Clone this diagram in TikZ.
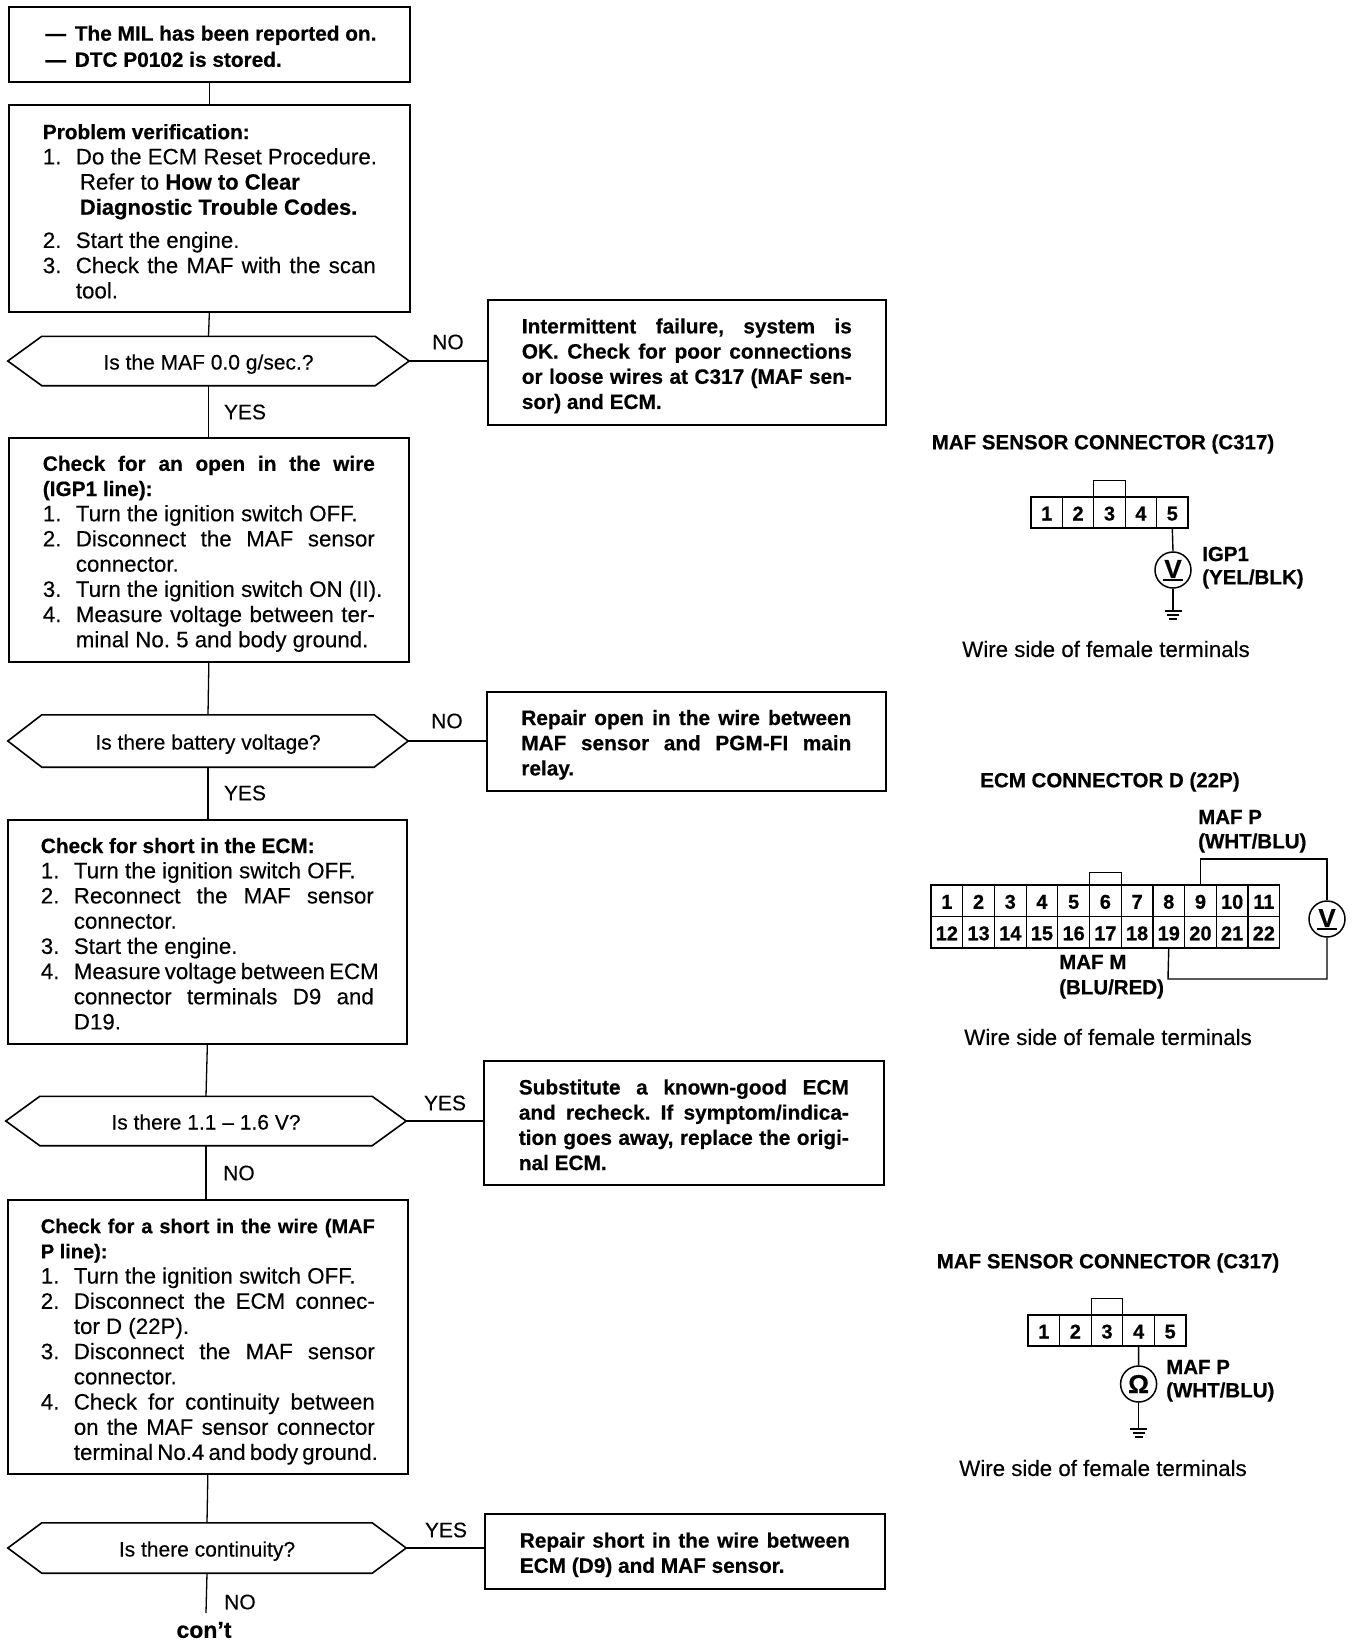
\documentclass[tikz,border=0pt]{standalone}
\usepackage{fontspec}
\setmainfont[FakeBold=0.3,BoldFeatures={FakeBold=0.5}]{Liberation Sans}
\usetikzlibrary{calc}
\def\TW{333pt}
\newcommand{\BF}{\fontsize{20.8}{25.2}\selectfont\bfseries}
\newcommand{\BL}{\fontsize{22}{25.2}\selectfont\bfseries}
\newcommand{\BS}{\fontsize{20}{25.2}\selectfont\bfseries}
\newcommand{\RG}{\fontsize{22.3}{25.2}\selectfont\mdseries}
\newcommand{\JL}[1]{\makebox[\TW][s]{#1}}
\newcommand{\NL}[2]{\mbox{\makebox[33pt][l]{#1}#2}}
\newcommand{\NJ}[2]{\mbox{\makebox[33pt][l]{#1}\makebox[\dimexpr\TW-33pt][s]{#2}}}
\newcommand{\IL}[1]{\mbox{\hspace*{33pt}#1}}
\newcommand{\CN}[1]{\raisebox{-8pt}[0pt][0pt]{#1}}
\tikzset{
  main/.style={font=\fontsize{22}{25.2}\selectfont},
  flowbox/.style={draw,line width=1.7pt,anchor=north west,inner sep=0pt,align=left,main},
  link/.style={line width=1.3pt},
  hexline/.style={line width=1.6pt,line join=miter},
  hextext/.style={inner sep=0pt,font=\fontsize{21}{24}\selectfont},
  lab/.style={inner sep=0pt,font=\fontsize{21}{24}\selectfont},
  title/.style={inner sep=0pt,font=\fontsize{20.5}{24}\selectfont\bfseries},
  wire/.style={inner sep=0pt,font=\fontsize{22.3}{24}\selectfont},
  tag/.style={inner sep=0pt,anchor=west,font=\fontsize{20.5}{24}\selectfont\bfseries},
  cell/.style={draw,line width=1.2pt,inner sep=0pt,font=\fontsize{20}{22}\selectfont\bfseries},
  key/.style={draw,line width=1.2pt,inner sep=0pt},
  meter/.style={draw,circle,line width=1.5pt,inner sep=0pt,minimum size=36pt,font=\fontsize{26}{26}\selectfont\bfseries},
  wireline/.style={line width=1.4pt},
}
\newcommand{\FB}[7]{\def\TW{#6}\node[flowbox,minimum width=#4pt,minimum height=#5pt,text width=#6] (#1) at (#2,#3) {\spaceskip=0pt\xspaceskip=0pt\frenchspacing #7};}
\newcommand{\HX}[6]{%
  \node[hextext,minimum width=#4pt,minimum height=#5pt] (#1) at (#2,#3) {\raisebox{-8.5pt}[0pt][0pt]{#6}};
  \draw[hexline] (#1.west) -- ($(#1.north west)+(34pt,0pt)$) -- ($(#1.north east)+(-34pt,0pt)$) -- (#1.east) -- ($(#1.south east)+(-34pt,0pt)$) -- ($(#1.south west)+(34pt,0pt)$) -- cycle;}
\newcommand{\GND}[1]{%
  \draw[wireline] ([xshift=-8.5pt]#1) -- ([xshift=8.5pt]#1);
  \draw[line width=1.1pt] ([xshift=-6pt,yshift=-4pt]#1) -- ([xshift=6pt,yshift=-4pt]#1);
  \draw[line width=1.1pt] ([xshift=-4pt,yshift=-8pt]#1) -- ([xshift=4pt,yshift=-8pt]#1);}
\begin{document}
\begin{tikzpicture}[x=1pt,y=-1pt]
\useasboundingbox (0,0) rectangle (1360,1644);
% ---------- flow boxes
\FB{a}{8}{6}{401}{75}{333pt}{\BF\rule{0pt}{19pt}\hspace*{-1pt}\NL{\,---}{The MIL has been reported on.}\\[1pt]\hspace*{-1pt}\NL{\,---}{DTC P0102 is stored.}}
\FB{b}{8}{104}{401}{207}{333pt}{\BF\rule{0pt}{21pt}Problem verification:\\
\RG\NL{1.}{Do the ECM Reset Procedure.}\\
\hspace*{37pt}Refer to {\BL How to Clear}\\
\hspace*{37pt}{\BL Diagnostic Trouble Codes.}\\[8pt]
\NL{2.}{Start the engine.}\\
\NJ{3.}{Check the MAF with the scan}\\
\IL{tool.}}
\HX{d1}{208.5}{361}{401}{49}{Is the MAF 0.0 g/sec.?}
\FB{r1}{487}{299}{398}{125}{330pt}{\BF\rule{0pt}{22pt}\JL{Intermittent failure, system is}\\
\JL{OK. Check for poor connections}\\
\JL{or loose wires at C317 (MAF sen-}\\
sor) and ECM.}
\FB{c}{8}{437}{400}{224}{332pt}{\BF\rule{0pt}{23pt}\JL{Check for an open in the wire}\\
(IGP1 line):\\
\RG\NL{1.}{Turn the ignition switch OFF.}\\
\NJ{2.}{Disconnect the MAF sensor}\\
\IL{connector.}\\
\NL{3.}{Turn the ignition switch ON (II).}\\
\NJ{4.}{Measure voltage between ter-}\\
\IL{minal No. 5 and body ground.}}
\HX{d2}{208}{741}{400}{52}{Is there battery voltage?}
\FB{r2}{486}{691}{399}{99}{330pt}{\BF\rule{0pt}{22pt}\JL{Repair open in the wire between}\\
\JL{MAF sensor and PGM-FI main}\\
relay.}
\FB{e}{7}{819}{399}{224}{333pt}{\BF\rule{0pt}{19pt}Check for short in the ECM:\\
\RG\NL{1.}{Turn the ignition switch OFF.}\\
\NJ{2.}{Reconnect the MAF sensor}\\
\IL{connector.}\\
\NL{3.}{Start the engine.}\\
\NJ{4.}{Measure voltage between ECM}\\
\NJ{}{connector terminals D9 and}\\
\IL{D19.}}
\HX{d3}{206}{1121}{400}{49}{Is there 1.1 -- 1.6 V?}
\FB{r3}{483}{1060}{400}{124}{330pt}{\BF\rule{0pt}{19pt}\JL{Substitute a known-good ECM}\\
\JL{and recheck. If symptom/indica-}\\
\JL{tion goes away, replace the origi-}\\
nal ECM.}
\FB{f}{7}{1199}{400}{274}{334pt}{\BS\rule{0pt}{24pt}\JL{Check for a short in the wire (MAF}\\
P line):\\
\RG\NL{1.}{Turn the ignition switch OFF.}\\
\NJ{2.}{Disconnect the ECM connec-}\\
\IL{tor D (22P).}\\
\NJ{3.}{Disconnect the MAF sensor}\\
\IL{connector.}\\
\NJ{4.}{Check for continuity between}\\
\NJ{}{on the MAF sensor connector}\\
\NJ{}{terminal No.4 and body ground.}}
\HX{d4}{207}{1548}{398}{50}{Is there continuity?}
\FB{r4}{484}{1513}{400}{75}{330pt}{\BF\rule{0pt}{22pt}\JL{Repair short in the wire between}\\
ECM (D9) and MAF sensor.}
\coordinate (end) at (206,1613);
\node[inner sep=0pt,font=\fontsize{23}{24}\selectfont\bfseries] (cont) at (204,1630) {con't};
% ---------- links
\draw[link] (a.south) -- (b.north);
\draw[link] (b.south) -- (d1.north);
\draw[link] (d1.south) -- (d1.south |- c.north);
\draw[link] (c.south) -- (d2.north);
\draw[link] (d2.south) -- (d2.south |- e.north);
\draw[link] (e.south) -- (d3.north);
\draw[link] (d3.south) -- (d3.south |- f.north);
\draw[link] (f.south) -- (d4.north);
\draw[link] (d4.south) -- (end);
\draw[link] (d1.east) -- (d1.east -| r1.west);
\draw[link] (d2.east) -- (d2.east -| r2.west);
\draw[link] (d3.east) -- (d3.east -| r3.west);
\draw[link] (d4.east) -- (d4.east -| r4.west);
% ---------- link labels
\node[lab] (l1) at (448,342) {NO};
\node[lab] (l2) at (245,412) {YES};
\node[lab] (l3) at (447,721) {NO};
\node[lab] (l4) at (245,793) {YES};
\node[lab] (l5) at (445,1103) {YES};
\node[lab] (l6) at (239,1173) {NO};
\node[lab] (l7) at (446,1530) {YES};
\node[lab] (l8) at (240,1602) {NO};
% ---------- connector C317, voltmeter
\node[title] (t1) at (1103,444) {MAF SENSOR CONNECTOR (C317)};
\node[key,minimum width=31.4pt,minimum height=16pt,anchor=south] (k1) at (1109.5,497) {};
\foreach \i in {1,...,5}
  \node[cell,minimum width=31.4pt,minimum height=31pt] (p\i) at ({1031+(\i-0.5)*31.4},512.5) {\CN{\i}};
\node[meter] (m1) at (1173,570) {\raisebox{2pt}{V}};
\draw[wireline] ([xshift=-10pt,yshift=-10pt]m1.center) -- ([xshift=10pt,yshift=-10pt]m1.center);
\coordinate (g1) at (1173,611);
\draw[wireline] (p5.south) -- (m1.north);
\draw[wireline] (m1.south) -- (g1);
\GND{g1}
\node[tag] (t1a) at (1202,554) {IGP1};
\node[tag] (t1b) at (1202,579) {(YEL/BLK)};
\node[wire] (w1) at (1106,649) {Wire side of female terminals};
% ---------- ECM connector
\node[title] (t2) at (1110,782) {ECM CONNECTOR D (22P)};
\node[key,minimum width=31.7pt,minimum height=12pt,anchor=south] (k2) at (1105.6,885) {};
\foreach \i in {1,...,11}
  \node[cell,minimum width=31.7pt,minimum height=31.5pt] (q\i) at ({931+(\i-0.5)*31.7},900.75) {\CN{\i}};
\foreach \i [evaluate=\i as \j using int(\i+11)] in {1,...,11}
  \node[cell,minimum width=31.7pt,minimum height=31.5pt] (q\j) at ({931+(\i-0.5)*31.7},932.25) {\CN{\j}};
\node[meter] (m2) at (1327,919) {\raisebox{2pt}{V}};
\draw[wireline] ([xshift=-10pt,yshift=-10pt]m2.center) -- ([xshift=10pt,yshift=-10pt]m2.center);
\draw[wireline] (q9.north) |- (1327,859) -- (m2.north);
\draw[wireline] (m2.south) |- (1168,979) -- (q19.south);
\node[tag] (t2a) at (1198,817) {MAF P};
\node[tag] (t2b) at (1198,843) {(WHT/BLU)};
\node[tag] (t2c) at (1059,962) {MAF M};
\node[tag] (t2d) at (1059,989) {(BLU/RED)};
\node[wire] (w2) at (1108,1037) {Wire side of female terminals};
% ---------- connector C317, ohmmeter
\node[title] (t3) at (1108,1263) {MAF SENSOR CONNECTOR (C317)};
\node[key,minimum width=31.6pt,minimum height=16pt,anchor=south] (k3) at (1107,1315) {};
\foreach \i in {1,...,5}
  \node[cell,minimum width=31.6pt,minimum height=31pt] (s\i) at ({1028+(\i-0.5)*31.6},1330.5) {\CN{\i}};
\node[meter] (m3) at (1138.6,1384) {Ω};
\coordinate (g3) at (1138.6,1429);
\draw[wireline] (s4.south) -- (m3.north);
\draw[wireline] (m3.south) -- (g3);
\GND{g3}
\node[tag] (t3a) at (1166,1367) {MAF P};
\node[tag] (t3b) at (1166,1392) {(WHT/BLU)};
\node[wire] (w3) at (1103,1468) {Wire side of female terminals};
\end{tikzpicture}
\end{document}
